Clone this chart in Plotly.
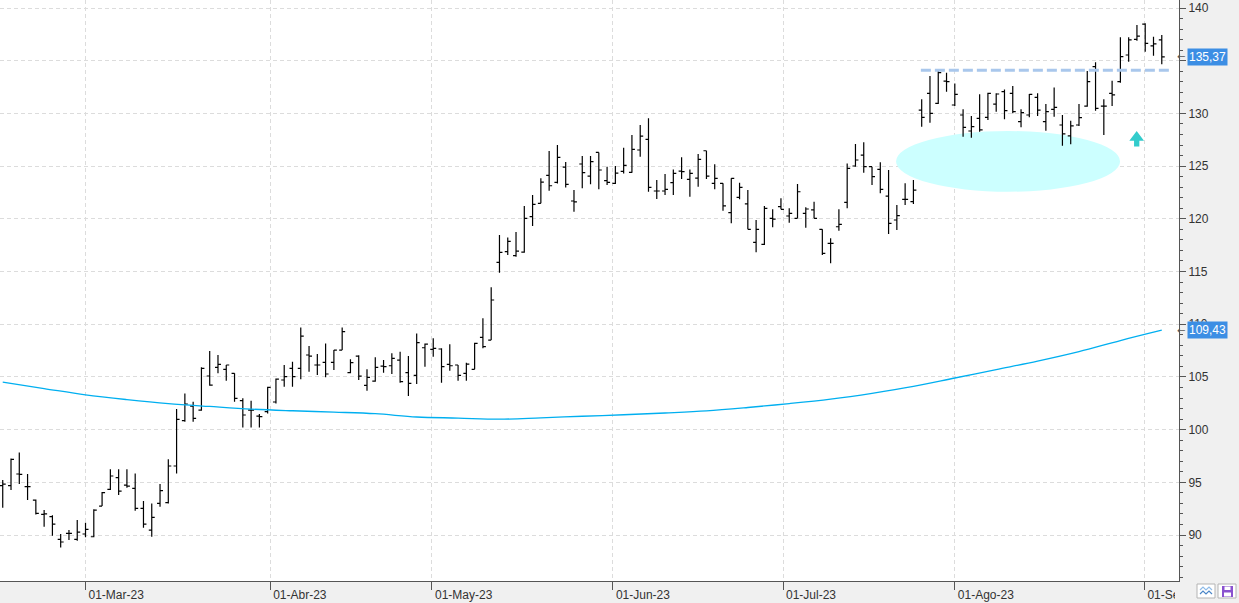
import plotly.graph_objects as go

# ---------------- data ----------------
bar_index = list(range(141))

opens = [94.68, 94.68, 95.79, 94.59, 93.32, 91.96, 91.74, 89.59, 90.16, 89.59,
         90.10, 89.84, 92.75, 94.33, 95.44, 94.74, 94.43, 92.53, 90.47, 93.00,
         93.07, 96.55, 100.85, 102.24, 101.86, 105.09, 105.91, 105.72, 105.34, 102.75,
         101.86, 101.29, 101.70, 102.62, 104.71, 105.81, 105.81, 107.08, 106.13, 106.38,
         106.38, 107.55, 105.40, 106.98, 104.20, 104.61, 106.03, 106.06, 106.60, 105.40,
         105.15, 107.77, 107.62, 107.65, 106.19, 106.13, 105.34, 105.72, 108.75, 108.50,
         115.87, 116.88, 116.50, 116.85, 120.20, 121.47, 124.12, 123.46, 124.91, 121.69,
         125.20, 124.06, 126.30, 123.62, 123.36, 124.50, 124.41, 126.53, 127.54, 122.64,
         122.64, 123.43, 124.53, 123.74, 123.87, 126.46, 123.36, 123.37, 120.58, 122.04,
         121.41, 117.77, 117.58, 120.05, 121.15, 120.27, 120.05, 120.52, 120.84, 119.00,
         117.67, 119.25, 121.56, 125.01, 126.05, 124.95, 124.69, 122.16, 119.89, 121.85,
         121.63, 130.32, 131.91, 130.96, 133.07, 130.80, 129.85, 128.33, 129.53, 129.63,
         130.89, 132.06, 131.91, 129.22, 129.85, 131.53, 129.22, 130.39, 128.90, 127.86,
         128.90, 130.70, 134.44, 130.70, 131.91, 133.01, 135.54, 137.03, 138.48, 136.40,
         136.97]
highs = [95.22, 97.27, 97.84, 95.79, 93.38, 92.37, 91.87, 90.10, 90.47, 91.42,
         91.17, 92.44, 94.08, 96.23, 96.23, 96.23, 95.85, 93.23, 93.00, 94.84,
         97.18, 101.95, 103.44, 102.65, 105.91, 107.46, 107.08, 106.13, 105.34, 102.97,
         102.75, 101.48, 104.07, 104.86, 106.13, 106.45, 109.70, 107.93, 107.17, 108.18,
         107.55, 109.70, 106.67, 107.05, 105.72, 106.86, 106.60, 107.24, 107.39, 106.98,
         109.13, 108.18, 108.66, 107.71, 108.09, 106.13, 106.35, 108.25, 110.56, 113.50,
         118.46, 118.24, 118.75, 121.21, 122.26, 123.84, 126.43, 127.00, 125.39, 122.73,
         125.96, 125.96, 126.30, 124.95, 125.01, 126.75, 127.95, 128.90, 129.53, 123.68,
         124.25, 124.69, 125.83, 124.69, 126.15, 126.46, 125.17, 123.37, 123.84, 123.43,
         122.73, 119.89, 121.22, 120.90, 121.94, 121.00, 123.30, 121.09, 121.63, 119.00,
         118.15, 120.90, 125.26, 127.10, 127.26, 124.95, 125.36, 124.63, 121.31, 123.37,
         123.68, 131.34, 133.55, 134.12, 133.87, 132.85, 130.39, 129.75, 131.81, 131.97,
         131.91, 132.28, 132.60, 130.39, 131.84, 131.91, 130.89, 132.47, 129.85, 129.31,
         130.89, 134.02, 134.85, 131.34, 133.11, 137.22, 137.22, 138.39, 138.55, 137.28,
         137.44]
lows = [92.59, 94.27, 94.84, 93.32, 91.96, 90.79, 89.94, 88.83, 89.53, 89.46,
        89.78, 89.78, 92.75, 94.27, 93.80, 94.49, 92.31, 90.70, 89.84, 92.69,
        93.00, 95.85, 100.75, 100.75, 101.80, 104.17, 105.34, 104.64, 102.65, 100.20,
        100.20, 100.20, 101.54, 102.49, 104.07, 104.07, 104.77, 105.50, 105.18, 104.96,
        105.65, 107.55, 105.34, 104.70, 103.69, 104.55, 105.40, 105.27, 104.45, 103.19,
        104.33, 105.97, 106.92, 104.45, 105.59, 104.64, 104.64, 105.72, 107.71, 108.50,
        114.89, 116.56, 116.41, 116.79, 119.32, 121.47, 122.67, 123.36, 122.98, 120.68,
        122.89, 123.27, 122.80, 123.20, 123.30, 124.31, 124.37, 125.90, 122.57, 121.88,
        122.26, 122.26, 123.77, 122.10, 123.05, 123.77, 122.80, 120.77, 119.57, 121.85,
        119.00, 116.82, 117.51, 119.19, 120.90, 119.63, 120.05, 119.16, 120.05, 116.57,
        115.78, 118.87, 121.00, 124.95, 124.38, 123.21, 122.42, 118.56, 118.94, 121.31,
        121.41, 128.74, 129.12, 130.89, 132.06, 130.70, 127.79, 127.70, 128.27, 129.38,
        130.17, 129.44, 130.01, 128.68, 129.63, 129.75, 128.36, 129.69, 126.94, 127.07,
        128.81, 130.64, 130.26, 127.95, 130.70, 132.92, 134.91, 136.90, 135.86, 135.48,
        134.66]
closes = [94.84, 97.18, 95.76, 94.59, 92.06, 92.00, 91.04, 89.34, 90.16, 90.28,
          90.54, 92.37, 94.02, 95.60, 94.17, 94.65, 92.53, 91.04, 91.68, 94.21,
          96.55, 100.97, 102.43, 101.07, 105.81, 104.23, 106.19, 106.13, 102.97, 101.39,
          101.86, 101.23, 104.01, 104.80, 105.02, 105.02, 108.88, 106.98, 106.13, 105.28,
          107.55, 109.30, 106.35, 105.08, 104.96, 105.91, 105.97, 106.76, 104.55, 104.39,
          108.25, 108.12, 107.71, 105.97, 106.06, 105.15, 106.22, 108.18, 107.87, 112.30,
          116.82, 117.86, 116.94, 120.04, 121.37, 123.49, 123.14, 125.83, 123.27, 121.60,
          124.38, 125.42, 124.63, 123.46, 124.34, 125.07, 126.59, 127.85, 122.98, 122.64,
          122.80, 124.31, 124.47, 124.31, 125.64, 124.06, 123.84, 121.22, 123.84, 122.99,
          119.00, 119.00, 120.99, 119.98, 120.90, 120.52, 122.57, 120.93, 120.05, 116.72,
          117.67, 119.47, 124.79, 125.58, 124.95, 124.00, 122.80, 119.57, 120.30, 121.85,
          122.73, 129.63, 130.01, 133.87, 133.01, 131.81, 128.68, 128.74, 128.43, 131.91,
          131.84, 130.26, 130.17, 130.07, 131.81, 130.32, 130.17, 130.58, 128.05, 128.81,
          129.60, 133.01, 130.48, 130.70, 131.75, 135.38, 136.97, 137.34, 136.65, 136.59,
          135.37]

# long moving average, read at every 5th bar
ma_index = [0, 5, 10, 15, 20, 25, 30, 35, 40, 45, 50, 55, 60, 65, 70, 75, 80, 85,
            90, 95, 100, 105, 110, 115, 120, 125, 130, 135, 140]
ma_values = [104.50, 103.90, 103.30, 102.85, 102.47, 102.20, 101.95, 101.79, 101.66,
             101.51, 101.20, 101.10, 100.99, 101.12, 101.27, 101.41, 101.58, 101.78,
             102.10, 102.47, 102.90, 103.45, 104.10, 104.90, 105.70, 106.50, 107.40,
             108.45, 109.43]

month_labels = ["01-Mar-23", "01-Abr-23", "01-May-23", "01-Jun-23",
                "01-Jul-23", "01-Ago-23", "01-Sep-23"]
month_pos = [10, 32.3, 51.85, 73.7, 94.25, 115, 137.9]

y_tick_vals = [90, 95, 100, 105, 110, 115, 120, 125, 130, 135, 140]
y_tick_text = ["90", "95", "100", "105", "110", "115", "120", "125", "130", "", "140"]

resistance_level = 134.1
last_close_label = "135,37"
ma_last_label = "109,43"

# ---------------- figure ----------------
W, H = 1239, 603
ML, MR, MT, MB = 0, 60, 0, 22
PW, PH = W - ML - MR, H - MT - MB

def px_x(px):
    return (px - ML) / PW

def px_y(py):
    return (H - MB - py) / PH

fig = go.Figure()

fig.add_trace(go.Scatter(
    x=ma_index, y=ma_values, mode="lines", line_shape="spline",
    line=dict(color="#00aff0", width=1.3),
    hoverinfo="skip", showlegend=False))

fig.add_trace(go.Ohlc(
    x=bar_index, open=opens, high=highs, low=lows, close=closes,
    increasing=dict(line=dict(color="black", width=1.2)),
    decreasing=dict(line=dict(color="black", width=1.2)),
    tickwidth=0.36, showlegend=False, hoverinfo="skip"))

shapes = []
# highlighted ellipse (support zone)
shapes.append(dict(type="circle", xref="x", yref="y",
                   x0=107.9, x1=134.96, y0=122.57, y1=128.33,
                   fillcolor="#ccffff", line=dict(width=0), layer="between"))
# dashed resistance line
shapes.append(dict(type="line", xref="x", yref="y",
                   x0=110.9, x1=140.9, y0=resistance_level, y1=resistance_level,
                   line=dict(color="#a9c7ec", width=3, dash="10px,4px"), layer="above"))
# up arrow
arrow = [(136.08, 127.41), (136.97, 128.33), (137.85, 127.41), (137.29, 127.41),
         (137.29, 126.85), (136.65, 126.85), (136.65, 127.41)]
shapes.append(dict(type="path", xref="x", yref="y",
                   path="M " + " L ".join(f"{a},{b}" for a, b in arrow) + " Z",
                   fillcolor="#33cccc", line=dict(width=0), layer="above"))
# cover clipped part of last date label
shapes.append(dict(type="rect", xref="paper", yref="paper",
                   x0=px_x(1175), x1=px_x(W), y0=px_y(H), y1=px_y(582),
                   fillcolor="#f0f0f0", line=dict(width=0), layer="above"))
# little toolbar buttons
for bx0, bx1 in [(1197, 1215), (1218, 1236)]:
    shapes.append(dict(type="rect", xref="paper", yref="paper",
                       x0=px_x(bx0), x1=px_x(bx1), y0=px_y(598), y1=px_y(584),
                       fillcolor="white", line=dict(color="#b4b4b4", width=1), layer="above"))
def pth(points):
    return "M " + " L ".join(f"{px_x(a)},{px_y(b)}" for a, b in points)
shapes.append(dict(type="path", xref="paper", yref="paper",
                   path=pth([(1200, 590), (1203, 587), (1206, 590), (1209, 587), (1212, 590)]),
                   line=dict(color="#8fbbe8", width=1.2), layer="above"))
shapes.append(dict(type="path", xref="paper", yref="paper",
                   path=pth([(1200, 594), (1203, 591), (1206, 594), (1209, 591), (1212, 594)]),
                   line=dict(color="#4a86c8", width=1.2), layer="above"))
shapes.append(dict(type="rect", xref="paper", yref="paper",
                   x0=px_x(1222), x1=px_x(1233), y0=px_y(597), y1=px_y(586),
                   fillcolor="#8a52cf", line=dict(width=0), layer="above"))
shapes.append(dict(type="rect", xref="paper", yref="paper",
                   x0=px_x(1224.5), x1=px_x(1230.5), y0=px_y(590), y1=px_y(586.5),
                   fillcolor="white", line=dict(width=0), layer="above"))
shapes.append(dict(type="rect", xref="paper", yref="paper",
                   x0=px_x(1224), x1=px_x(1231), y0=px_y(596.5), y1=px_y(592.5),
                   fillcolor="white", line=dict(width=0), layer="above"))

annotations = []
for val, txt in [(closes[-1], last_close_label), (ma_values[-1], ma_last_label)]:
    annotations.append(dict(xref="paper", yref="y", x=px_x(1187), y=val,
                            xanchor="left", yanchor="middle", showarrow=False,
                            text=txt, bgcolor="#3c8ee4", borderpad=1,
                            font=dict(family="Liberation Sans, Arial", size=12, color="white")))
    annotations.append(dict(xref="paper", yref="y", x=px_x(1187), y=val,
                            xanchor="right", yanchor="middle", showarrow=False,
                            text="←", font=dict(family="DejaVu Sans", size=10, color="#555555")))

grid_style = dict(showgrid=True, gridcolor="#dcdcdc", gridwidth=1, griddash="4px,3px")
fig.update_layout(
    width=W, height=H,
    margin=dict(l=ML, r=MR, t=MT, b=MB),
    paper_bgcolor="#f0f0f0", plot_bgcolor="white",
    showlegend=False,
    font=dict(family="Liberation Sans, Arial", size=12, color="#333333"),
    xaxis=dict(range=[-0.33, 142.08], tickmode="array", tickvals=month_pos,
               ticktext=month_labels, ticks="outside", ticklen=8, tickcolor="#555555",
               showline=True, linecolor="#555555", linewidth=1, zeroline=False,
               ticklabelposition="outside right", ticklabelstandoff=3, ticklabelshift=2,
               rangeslider=dict(visible=False), fixedrange=True, **grid_style),
    yaxis=dict(range=[85.64, 140.76], side="right", tickmode="array",
               tickvals=y_tick_vals, ticktext=y_tick_text,
               ticks="outside", ticklen=6, tickcolor="#555555",
               showline=True, linecolor="#555555", linewidth=1, zeroline=False,
               minor=dict(dtick=1, tick0=0, ticks="outside", ticklen=3,
                          tickcolor="#555555", showgrid=False),
               fixedrange=True, **grid_style),
    shapes=shapes, annotations=annotations,
)

fig.write_html("out.html")
